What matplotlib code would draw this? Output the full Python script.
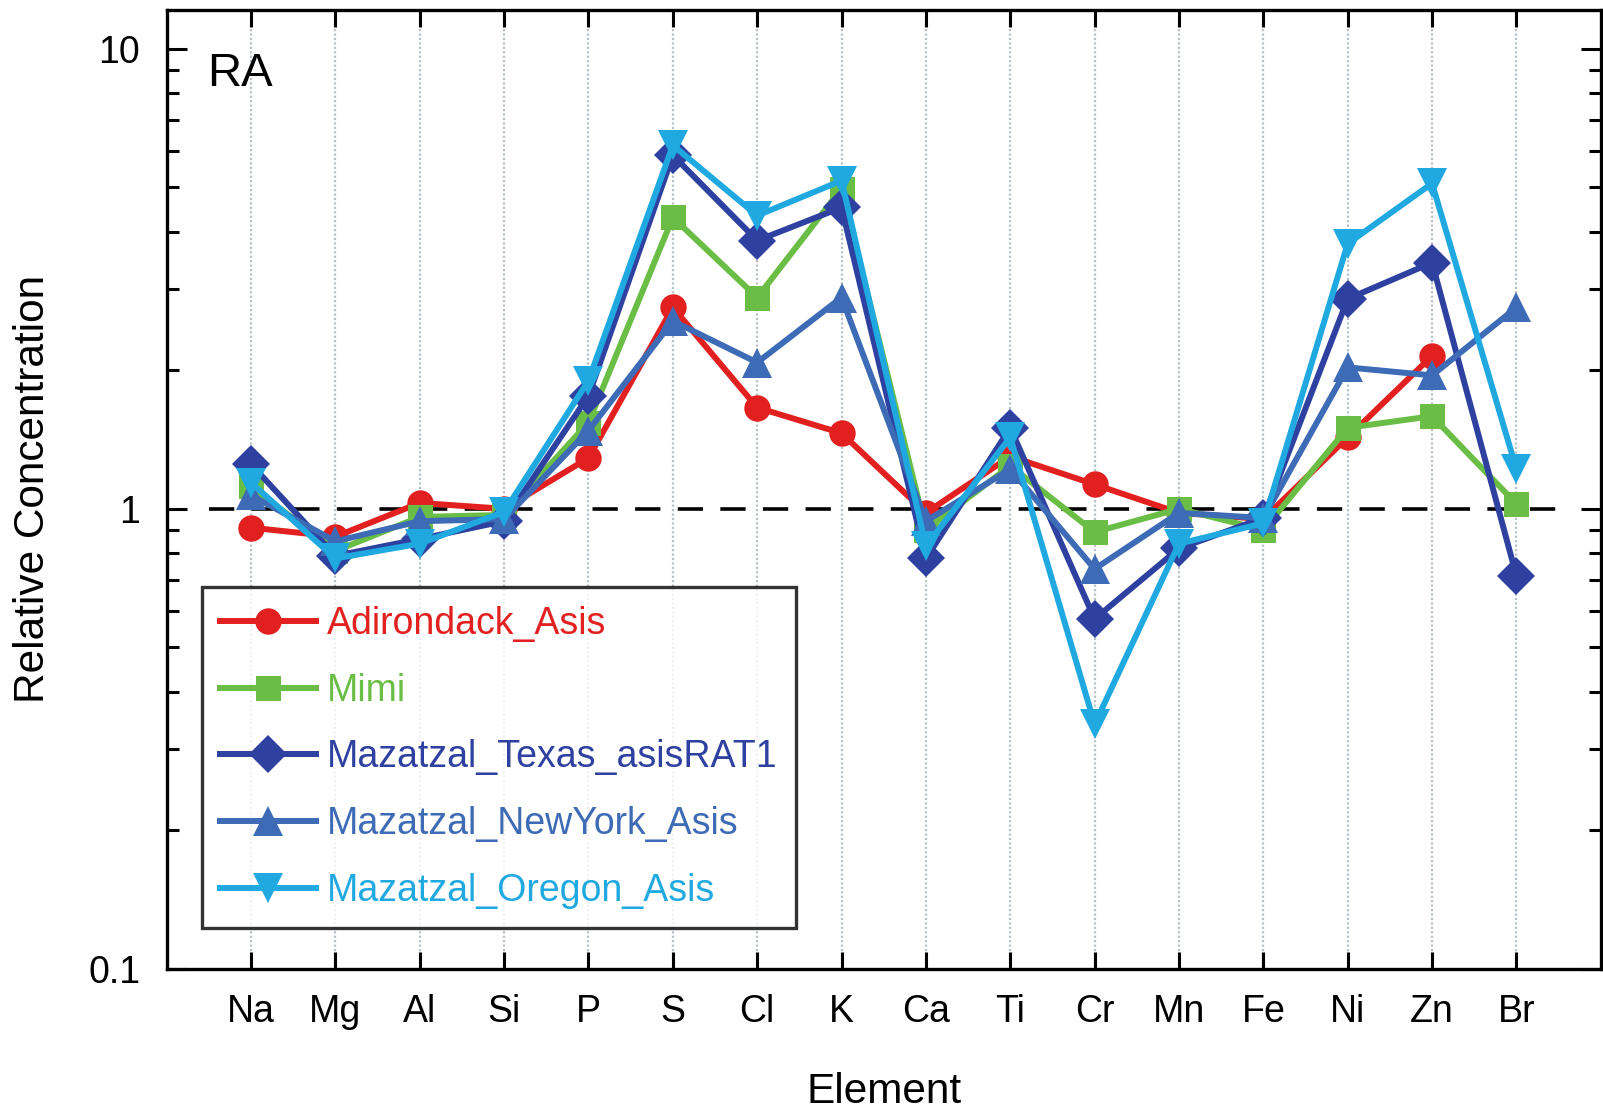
import numpy as np
import matplotlib
matplotlib.use("Agg")
import matplotlib.pyplot as plt

plt.rcParams['font.family'] = ['Liberation Sans', 'DejaVu Sans']

elements = ["Na", "Mg", "Al", "Si", "P", "S", "Cl", "K", "Ca", "Ti", "Cr", "Mn", "Fe", "Ni", "Zn", "Br"]

adirondack = [0.91, 0.87, 1.03, 1.00, 1.29, 2.74, 1.66, 1.46, 0.98, 1.30, 1.13, 0.98, 0.95, 1.43, 2.15, np.nan]
mimi       = [1.12, 0.81, 0.96, 0.97, 1.54, 4.30, 2.88, 4.97, 0.90, 1.24, 0.89, 1.00, 0.90, 1.50, 1.59, 1.025]
texas      = [1.25, 0.79, 0.86, 0.94, 1.76, 5.87, 3.83, 4.52, 0.78, 1.50, 0.576, 0.82, 0.955, 2.86, 3.43, 0.715]
newyork    = [1.07, 0.85, 0.94, 0.95, 1.48, 2.56, 2.08, 2.88, 0.94, 1.22, 0.74, 0.98, 0.955, 2.03, 1.95, 2.74]
oregon     = [1.14, 0.78, 0.84, 0.985, 1.90, 6.17, 4.34, 5.17, 0.83, 1.43, 0.34, 0.84, 0.93, 3.77, 5.10, 1.22]

series_names = ["Adirondack_Asis", "Mimi", "Mazatzal_Texas_asisRAT1", "Mazatzal_NewYork_Asis", "Mazatzal_Oregon_Asis"]
series_vals = [adirondack, mimi, texas, newyork, oregon]
colors = ["#e2201f", "#6abd45", "#2f41a0", "#3d6bb6", "#20a9e1"]
markers = ["o", "s", "D", "^", "v"]
msizes = [19, 18, 19, 21, 21]

fig = plt.figure(figsize=(16.03, 11.11), dpi=100)
ax = fig.add_axes([0.104, 0.128, 0.8946, 0.8632])

x = np.arange(len(elements))
for xi in x:
    ax.axvline(xi, color="#b8c0c8", lw=1.6, ls=(0, (1, 1)), zorder=0)

ax.hlines(1, -0.5, 15.5, colors="black", lw=2.6, linestyles=(0, (7, 4.8)), zorder=1)

handles = []
for name, vals, c, m, ms in zip(series_names, series_vals, colors, markers, msizes):
    h, = ax.plot(x, vals, color=c, marker=m, ms=ms, lw=4.3, label=name, zorder=3,
                 markeredgewidth=0)
    handles.append(h)

ax.set_yscale("log")
ax.set_ylim(0.1, 12.16)
ax.set_xlim(-1, 16)
ax.set_xticks(x)
ax.set_xticklabels(elements)
ax.set_yticks([0.1, 1, 10])
ax.set_yticklabels(["0.1", "1", "10"])
ax.yaxis.set_minor_locator(matplotlib.ticker.LogLocator(base=10, subs=np.arange(2, 10)))
ax.yaxis.set_minor_formatter(matplotlib.ticker.NullFormatter())

ax.tick_params(axis="x", which="major", direction="in", length=12, width=2.2, top=True,
               labelsize=27, pad=18)
ax.tick_params(axis="y", which="major", direction="in", length=14.5, width=2.2, right=True,
               labelsize=27, pad=19)
ax.tick_params(axis="y", which="minor", direction="in", length=8.5, width=2.2, right=True)
for s in ax.spines.values():
    s.set_linewidth(2.4)

ax.set_xlabel("Element", fontsize=30.5)
ax.xaxis.set_label_coords(0.5, -0.108)
ax.set_ylabel("Relative Concentration", fontsize=30.5)
ax.yaxis.set_label_coords(-0.079, 0.5)

ax.text(0.028, 0.92, "RA", transform=ax.transAxes, fontsize=34, ha="left", va="baseline")

leg = ax.legend(handles=handles, loc="lower left", bbox_to_anchor=(0.0244, 0.0428),
                fontsize=27, frameon=True, fancybox=False, edgecolor="black",
                handlelength=2.56, labelspacing=0.82, borderpad=0.5, handletextpad=0.27,
                borderaxespad=0)
leg.get_frame().set_linewidth(2.4)
for t, c in zip(leg.get_texts(), colors):
    t.set_color(c)

fig.savefig("out.png", dpi=100)
